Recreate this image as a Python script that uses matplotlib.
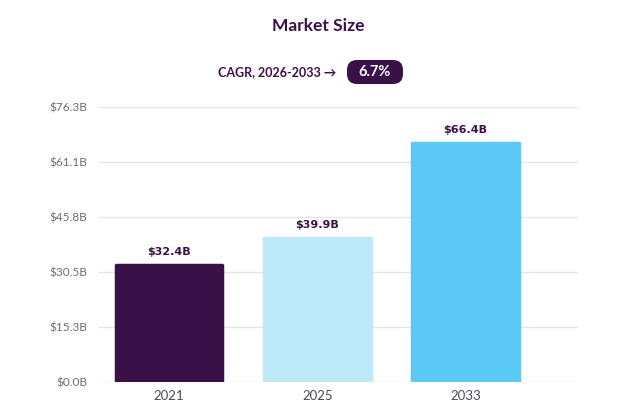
import matplotlib.pyplot as plt
from matplotlib.patches import FancyBboxPatch

years = ['2021', '2025', '2033']
market_size = [32.4, 39.9, 66.4]
bar_labels = ['$32.4B', '$39.9B', '$66.4B']
y_ticks = [0.0, 15.3, 30.5, 45.8, 61.1, 76.3]
y_tick_labels = ['$0.0B', '$15.3B', '$30.5B', '$45.8B', '$61.1B', '$76.3B']
cagr_text = 'CAGR, 2026-2033 \u2192'
cagr_value = '6.7%'

colors = ['#3a1048', '#bde9f9', '#5bc8f5']
dark = '#3a1048'

plt.rcParams['font.family'] = ['Lato', 'DejaVu Sans']

fig = plt.figure(figsize=(6.36, 4.18), dpi=100)
ax = fig.add_axes([98 / 636, 36 / 418, 480 / 636, 275 / 418])

x = range(len(years))
bars = ax.bar(x, market_size, width=0.72, color=colors, edgecolor=colors,
              linewidth=2.5, joinstyle='round', zorder=3)
for b, lab in zip(bars, bar_labels):
    ax.text(b.get_x() + b.get_width() / 2, b.get_height() + 2.2, lab,
            ha='center', va='bottom', fontsize=8, fontweight='bold',
            color=dark, family=['DejaVu Sans'])

ax.set_xlim(-0.48, 2.76)
ax.set_ylim(0, 76.3)
ax.set_yticks(y_ticks)
ax.set_yticklabels(y_tick_labels)
ax.set_xticks(list(x))
ax.set_xticklabels(years)
ax.tick_params(axis='y', length=0, pad=8, labelsize=8.5, labelcolor='#6b6b80')
ax.tick_params(axis='x', length=0, pad=6, labelsize=9.5, labelcolor='#4a4a5a')
ax.grid(axis='y', color='#e6e6ea', linewidth=1, zorder=0)
for s in ax.spines.values():
    s.set_visible(False)

fig.text(0.5, 1 - 26 / 418, 'Market Size', ha='center', va='center',
         fontsize=12.5, fontweight='bold', color=dark)
fig.text(336 / 636, 1 - 72 / 418, cagr_text, ha='right', va='center',
         fontsize=9, fontweight='bold', color=dark)

# pill drawn in its own small axes, 1 data unit = 1 pixel
pax = fig.add_axes([347 / 636, 1 - 84 / 418, 56 / 636, 24 / 418])
pax.set_xlim(0, 56)
pax.set_ylim(0, 24)
pax.axis('off')
pax.add_patch(FancyBboxPatch((0, 0), 56, 24,
                             boxstyle='round,pad=0,rounding_size=10',
                             facecolor=dark, edgecolor='none'))
pax.text(28, 12, cagr_value, ha='center', va='center',
         fontsize=10.5, fontweight='bold', color='white')

fig.savefig('out.png', dpi=100)
